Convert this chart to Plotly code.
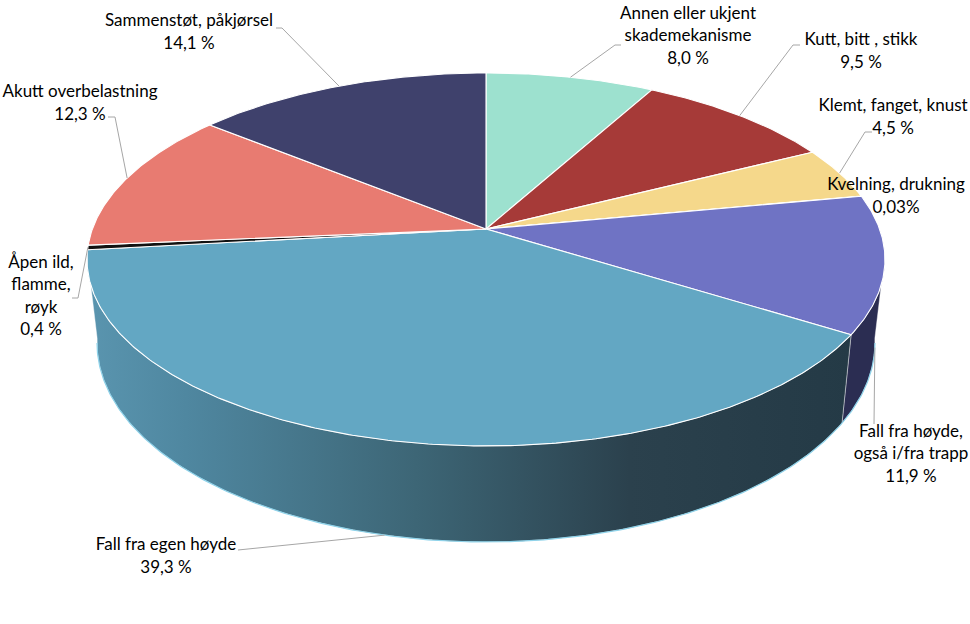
import numpy as np
import plotly.graph_objects as go

# ---------------- data ----------------
categories = [
    "Annen eller ukjent skademekanisme",
    "Kutt, bitt , stikk",
    "Klemt, fanget, knust",
    "Kvelning, drukning",
    "Fall fra høyde, også i/fra trapp",
    "Fall fra egen høyde",
    "Åpen ild, flamme, røyk",
    "Akutt overbelastning",
    "Sammenstøt, påkjørsel",
]
values = [8.0, 9.5, 4.5, 0.03, 11.9, 39.3, 0.4, 12.3, 14.1]
value_labels = ["8,0 %", "9,5 %", "4,5 %", "0,03%", "11,9 %", "39,3 %", "0,4 %", "12,3 %", "14,1 %"]
label_lines = [
    ["Annen eller ukjent", "skademekanisme"],
    ["Kutt, bitt , stikk"],
    ["Klemt, fanget, knust"],
    ["Kvelning, drukning"],
    ["Fall fra høyde,", "også i/fra trapp"],
    ["Fall fra egen høyde"],
    ["Åpen ild,", "flamme,", "røyk"],
    ["Akutt overbelastning"],
    ["Sammenstøt, påkjørsel"],
]

# ---------------- style ----------------
top_colors = ["#9de1cf", "#a63a38", "#f5d88b", "#4aa0b0", "#6f73c4",
              "#63a7c3", "#111111", "#e87b71", "#3f416c"]
side_colors = ["#6fa89a", "#6e2725", "#b09a60", "#357080", "#2b2d52",
               None, "#111111", "#a85650", "#2b2c4b"]
side_gradient = [[0.0, "#5a95af"], [0.13, "#4f87a0"], [0.43, "#3d6676"],
                 [0.71, "#2b414d"], [1.0, "#243a46"]]

FONT = "Lato, Calibri, Arial, sans-serif"
FS = 17
LINE_H = 22.5

# projection geometry (pixels)
CX, CY, A, B, K = 486.0, 229.0, 393.6, 181.5, 0.1635
SX, SY, CYB = 0.975, 1.067, 310.5
SIDE_LO, SIDE_HI = 98.0, 262.0

# label layout: (text centre x, centre y, anchor kind, extra leader points)
label_layout = [
    (688, 37, "top", [(615, 45), (621, 45)]),
    (861, 52, "top", [(793, 45), (800, 45)]),
    (893, 118, "top", [(865, 132), (872, 132)]),
    (896, 197, None, []),
    (911, 455, "bottom", [(874, 424)]),
    (166, 557, "bottom", [(245, 550), (238, 550)]),
    (41, 297, "top", [(78, 298), (72, 298)]),
    (80, 104, "top", [(115, 117), (108, 117)]),
    (189, 33, "top", [(282, 28), (276, 28)]),
]


def top_pt(th):
    t = np.radians(th)
    d = 1 + K * np.cos(t)
    return CX + A * np.sin(t) / d, CY - B * np.cos(t) / d


def bot_pt(th):
    t = np.radians(th)
    d = 1 + K * np.cos(t)
    return CX + SX * A * np.sin(t) / d, CYB - SY * B * np.cos(t) / d


total = sum(values)
bounds = np.concatenate([[0], np.cumsum(values)]) / total * 360.0

fig = go.Figure()

# ---- side walls (front half only) ----
for i in range(len(values)):
    lo, hi = max(bounds[i], SIDE_LO), min(bounds[i + 1], SIDE_HI)
    if hi <= lo:
        continue
    n = max(4, int((hi - lo) * 2))
    th = np.linspace(lo, hi, n)
    tx, ty = top_pt(th)
    bx, by = bot_pt(th[::-1])
    xs = np.concatenate([tx, bx, tx[:1]])
    ys = np.concatenate([ty, by, ty[:1]])
    kw = dict(fill="toself", mode="lines",
              line=dict(color="rgba(255,255,255,0.5)", width=0.8),
              hoverinfo="skip", showlegend=False)
    if side_colors[i] is None:
        kw["fillgradient"] = dict(type="horizontal", colorscale=side_gradient)
    else:
        kw["fillcolor"] = side_colors[i]
    fig.add_trace(go.Scatter(x=xs, y=ys, **kw))

# bottom rim highlight
th = np.linspace(99.4, 260.6, 300)
bx, by = bot_pt(th)
fig.add_trace(go.Scatter(x=bx, y=by, mode="lines",
                         line=dict(color="#8fd3ea", width=1.2),
                         hoverinfo="skip", showlegend=False))

# ---- top faces ----
for i in range(len(values)):
    lo, hi = bounds[i], bounds[i + 1]
    n = max(3, int((hi - lo) * 2))
    th = np.linspace(lo, hi, n)
    ax, ay = top_pt(th)
    xs = np.concatenate([[CX], ax, [CX]])
    ys = np.concatenate([[CY], ay, [CY]])
    fig.add_trace(go.Scatter(x=xs, y=ys, fill="toself", mode="lines",
                             fillcolor=top_colors[i],
                             line=dict(color="white", width=1.1),
                             hoverinfo="skip", showlegend=False))

# ---- leader lines and labels ----
for i in range(len(values)):
    cx_, cy_, kind, pts = label_layout[i]
    mid = (bounds[i] + bounds[i + 1]) / 2
    if kind is not None:
        ax, ay = (top_pt(mid) if kind == "top" else bot_pt(mid))
        lx = [float(ax)] + [p[0] for p in pts]
        ly = [float(ay)] + [p[1] for p in pts]
        fig.add_trace(go.Scatter(x=lx, y=ly, mode="lines",
                                 line=dict(color="#a6a6a6", width=1),
                                 hoverinfo="skip", showlegend=False))
    lines = label_lines[i] + [value_labels[i]]
    n = len(lines)
    ys = [cy_ + (j - (n - 1) / 2) * LINE_H for j in range(n)]
    fig.add_trace(go.Scatter(x=[cx_] * n, y=ys, mode="text", text=lines,
                             textposition="middle center",
                             textfont=dict(family=FONT, size=FS, color="#000000"),
                             hoverinfo="skip", showlegend=False))

fig.update_layout(
    width=970, height=624, autosize=False,
    margin=dict(l=0, r=0, t=0, b=0),
    paper_bgcolor="white", plot_bgcolor="white",
    xaxis=dict(range=[0, 970], visible=False, fixedrange=True),
    yaxis=dict(range=[624, 0], visible=False, fixedrange=True),
    showlegend=False,
)

fig.write_html("out.html")
